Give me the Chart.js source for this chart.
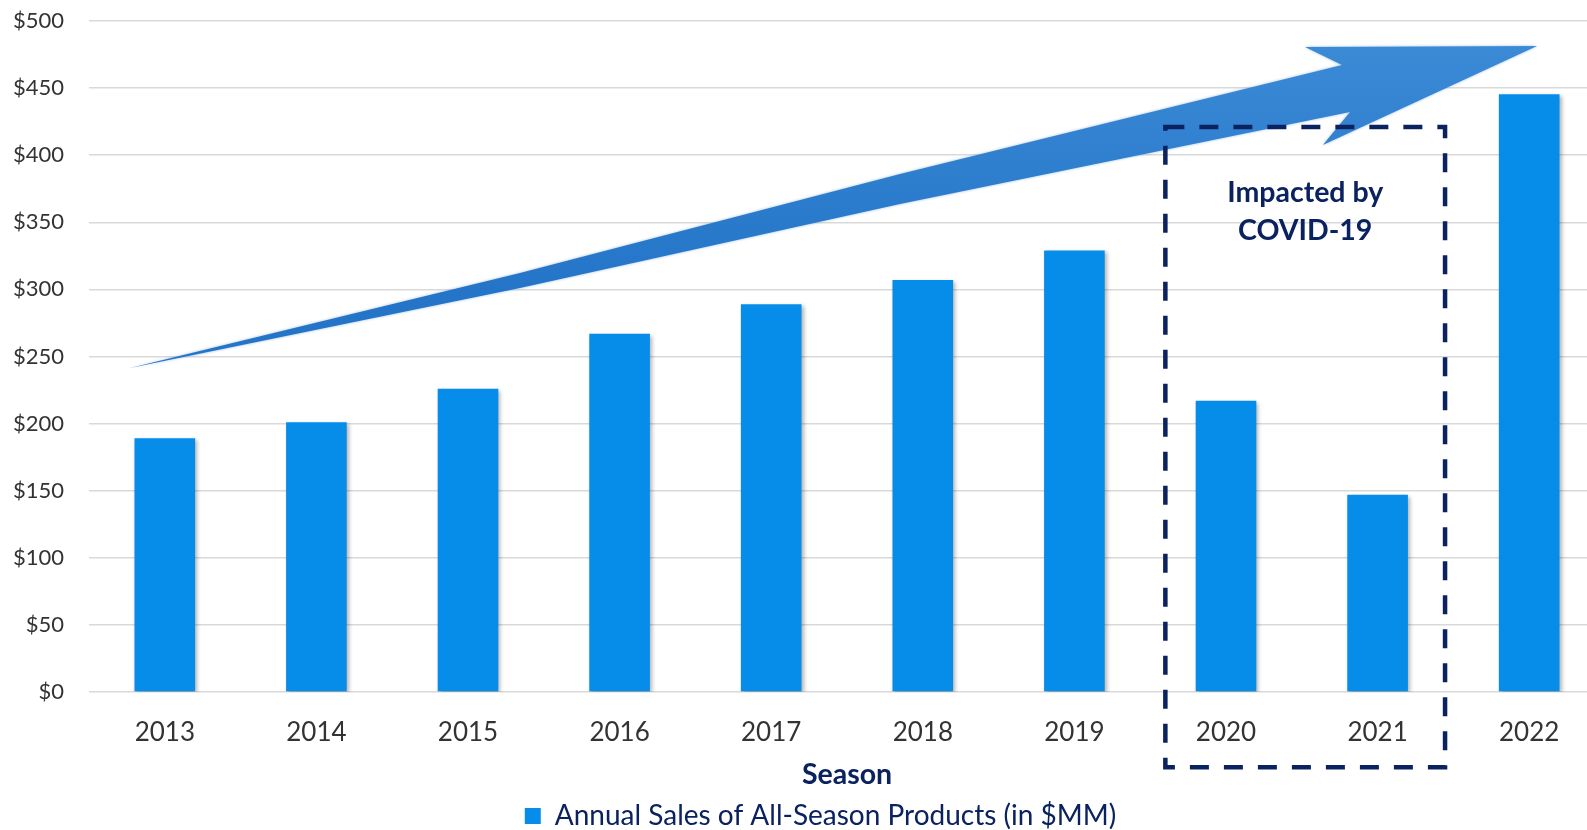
<!DOCTYPE html>
<html>
<head>
<meta charset="utf-8">
<script src="https://cdn.jsdelivr.net/npm/chart.js@4.4.1/dist/chart.umd.min.js"></script>
<style>
  html, body { margin: 0; padding: 0; overflow: hidden; background: #fff; }
  #wrap { width: 1605px; height: 840px; }
</style>
</head>
<body>
<div id="wrap"><canvas id="sales" width="1605" height="840"></canvas></div>
<script>
const seasons = ['2013', '2014', '2015', '2016', '2017', '2018', '2019', '2020', '2021', '2022'];
const sales = [189, 201, 226, 267, 289, 307, 329, 217, 147, 445.5];
const yTicks = [0, 50, 100, 150, 200, 250, 300, 350, 400, 450, 500];

// note box around the covid years, in category index / value units
const covidBox = { from: 6.6, to: 8.445, top: 421, bottom: -56 };
const covidText = ['Impacted by', 'COVID-19'];
const covidTextAt = [372, 344];

// outline of the growth arrow, [category index, value]
const trendArrow = [
    [-0.23, 241.4], [2.343, 312.2], [4.85, 386.0], [7.765, 467.2],
    [7.521, 480.6], [9.052, 481.4], [7.639, 407.6], [7.818, 432.2],
    [4.85, 363.6], [2.343, 301.0]
];

const navy = '#0B2260';
const barBlue = '#068DE9';

const extras = {
    id: 'extras',
    afterLayout(chart) {
        // legend sits a bit right of the canvas centre
        chart.legend.left += 18;
        chart.legend.right += 18;
    },
    beforeDatasetsDraw(chart) {
        const ctx = chart.ctx;
        ctx.save();
        ctx.shadowColor = 'rgba(0,0,0,0.3)';
        ctx.shadowBlur = 4;
        ctx.shadowOffsetX = 2;
        ctx.shadowOffsetY = 2;
    },
    afterDatasetsDraw(chart) {
        const ctx = chart.ctx;
        ctx.restore();
        const x = chart.scales.x, y = chart.scales.y;

        // arrow
        ctx.save();
        ctx.beginPath();
        trendArrow.forEach((p, i) => {
            const px = x.getPixelForValue(p[0]), py = y.getPixelForValue(p[1]);
            if (i === 0) ctx.moveTo(px, py); else ctx.lineTo(px, py);
        });
        ctx.closePath();
        const g = ctx.createLinearGradient(0, y.getPixelForValue(480), 0, y.getPixelForValue(300));
        g.addColorStop(0, '#3A8AD6');
        g.addColorStop(1, '#2474C8');
        ctx.fillStyle = g;
        ctx.shadowColor = 'rgba(40,110,200,0.45)';
        ctx.shadowBlur = 3;
        ctx.fill();
        ctx.restore();

        // dashed box
        const l = x.getPixelForValue(covidBox.from), r = x.getPixelForValue(covidBox.to);
        const t = y.getPixelForValue(covidBox.top), b = y.getPixelForValue(covidBox.bottom);
        ctx.save();
        ctx.strokeStyle = navy;
        ctx.lineWidth = 4.5;
        ctx.setLineDash([19, 15]);
        ctx.strokeRect(l, t, r - l, b - t);
        ctx.restore();

        ctx.save();
        ctx.fillStyle = navy;
        ctx.font = 'bold 28.5px Lato';
        ctx.textAlign = 'center';
        ctx.textBaseline = 'middle';
        covidText.forEach((s, i) => ctx.fillText(s, (l + r) / 2, y.getPixelForValue(covidTextAt[i])));
        ctx.restore();
    }
};

new Chart(document.getElementById('sales'), {
    type: 'bar',
    data: {
        labels: seasons,
        datasets: [{
            label: 'Annual Sales of All-Season Products (in $MM)',
            data: sales,
            backgroundColor: barBlue,
            borderWidth: 0,
            categoryPercentage: 1,
            barPercentage: 0.4
        }]
    },
    options: {
        responsive: false,
        animation: false,
        layout: { padding: { left: 0, top: 21, right: 0, bottom: 0 } },
        scales: {
            x: {
                grid: { display: false },
                border: { display: false },
                ticks: { color: '#333', font: { family: 'Lato', size: 26 }, padding: 17 },
                title: {
                    display: true, text: 'Season', color: navy,
                    font: { family: 'Lato', size: 28.5, weight: 'bold' },
                    padding: { top: 0, bottom: 0 }
                },
                afterFit(s) { s.height = 100; }
            },
            y: {
                min: 0, max: 500,
                afterBuildTicks(s) { s.ticks = yTicks.map(v => ({ value: v })); },
                grid: { color: '#D9D9D9', lineWidth: 1.5, drawTicks: false },
                border: { display: false },
                ticks: {
                    color: '#333', font: { family: 'Lato', size: 22 }, padding: 25,
                    callback: v => '$' + v
                },
                afterFit(s) { s.width = 89; s.paddingTop = 0; s.paddingBottom = 0; }
            }
        },
        plugins: {
            legend: {
                position: 'bottom',
                labels: {
                    boxWidth: 16, boxHeight: 16, padding: 10,
                    color: navy, font: { family: 'Lato', size: 28 }
                }
            },
            tooltip: { enabled: false }
        }
    },
    plugins: [extras]
});
</script>
</body>
</html>
